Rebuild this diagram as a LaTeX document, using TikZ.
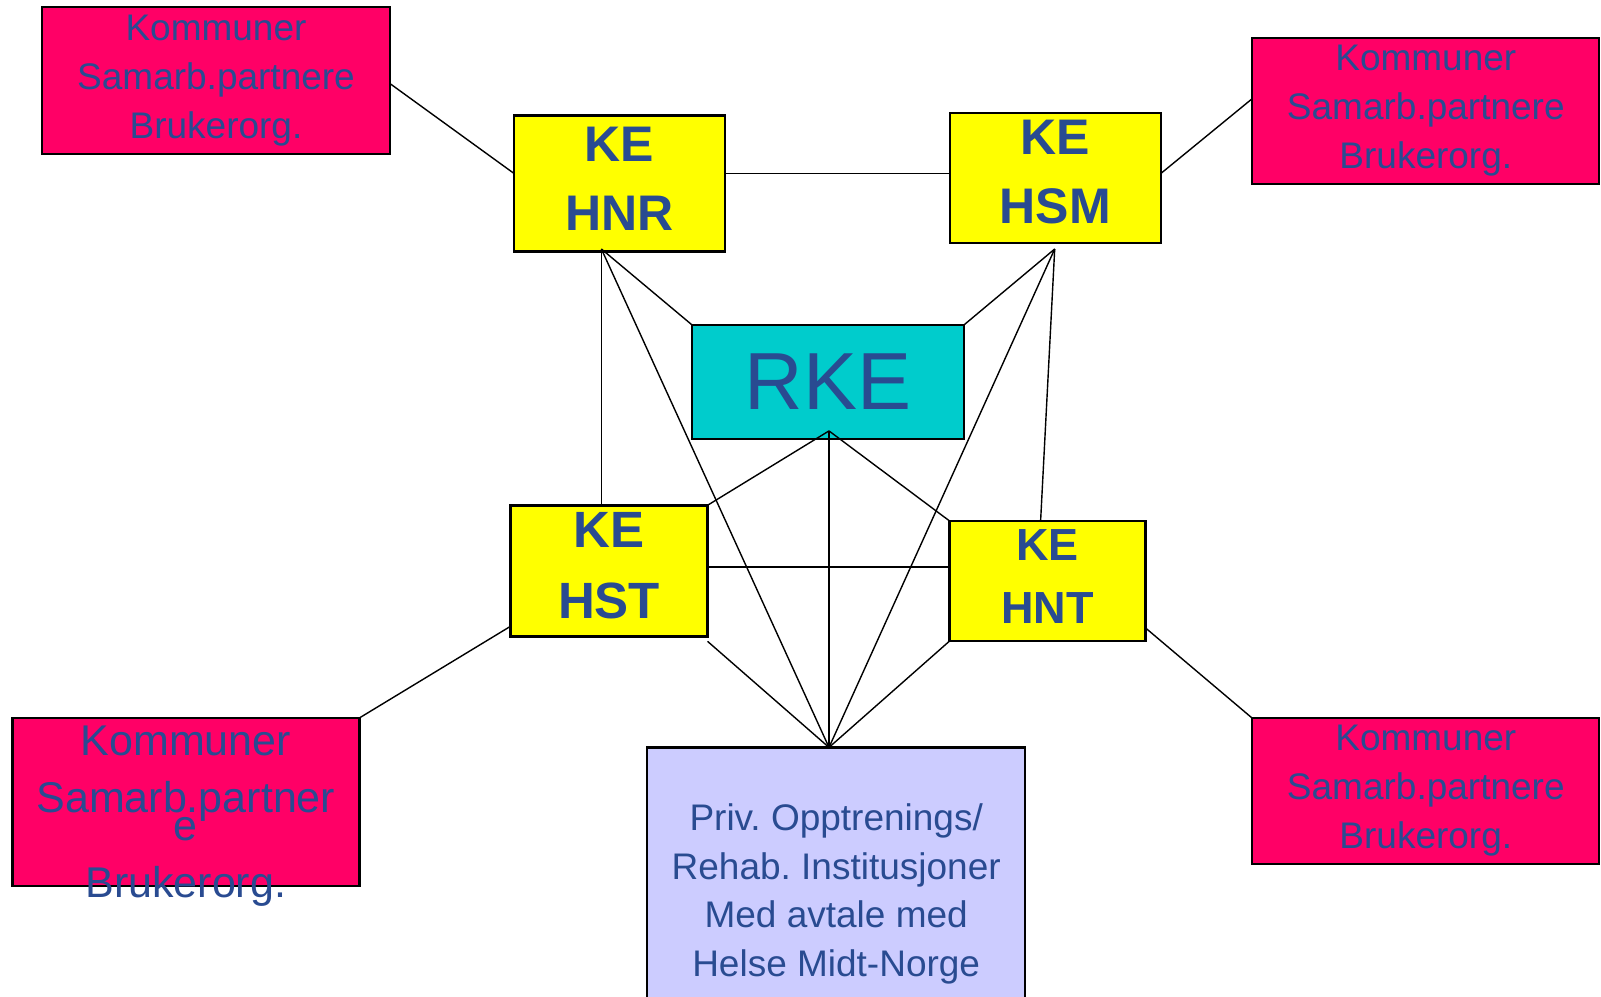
\documentclass[tikz,border=0pt]{standalone}
\usepackage{fontspec}
\setmainfont{Liberation Sans}
\frenchspacing
\definecolor{partner color}{HTML}{FF0066}
\definecolor{ke color}{HTML}{FFFF00}
\definecolor{rke color}{HTML}{00CCCC}
\definecolor{priv color}{HTML}{CCCCFF}
\definecolor{label color}{HTML}{294B91}
\tikzset{
    x={1pt},
    y={-1pt},
    box/.style={
        draw=black,
        line width={2.4pt},
        inner sep=0pt,
        outer sep=0pt,
        align=center,
        text=label color,
    },
    partner box/.style 2 args={
        box, fill=partner color,
        minimum width={#1},
        minimum height={#2},
    },
    partner text/.style={
        align=center,
        text=label color,
        inner sep=0pt,
        font={\fontsize{37}{49}\selectfont},
    },
    ke box/.style 2 args={
        box, fill=ke color,
        minimum width={#1},
        minimum height={#2},
        text depth={10pt},
        font={\bfseries\fontsize{50}{69}\selectfont},
    },
    rke box/.style={
        box, fill=rke color,
        minimum width={272},
        minimum height={114},
        font={\fontsize{81}{90}\selectfont},
    },
    priv box/.style={
        box, fill=priv color,
        minimum width={378},
        minimum height={293},
        font={\fontsize{37}{48.5}\selectfont},
    },
    link/.style={
        draw=black,
        line width={1.4pt},
    },
}

\begin{document}
\begin{tikzpicture}
\useasboundingbox (0,0) rectangle (1601,996);
% partner boxes
\node[partner box={348}{147}] (partner nw) at (216,80.6) {};
\node[partner box={347}{146}] (partner ne) at (1425.3,110.8) {};
\node[partner box={347}{168}] (partner sw) at (185.8,802) {};
\node[partner box={347}{146}] (partner se) at (1425.3,790.8) {};
\node[partner text] (partner nw text) at (216,81) {Kommuner\\Samarb.partnere\\Brukerorg.};
\node[partner text] (partner ne text) at (1425.8,110.6) {Kommuner\\Samarb.partnere\\Brukerorg.};
\node[partner text] (partner se text) at (1425.8,791) {Kommuner\\Samarb.partnere\\Brukerorg.};
\node[partner text, font={\fontsize{43}{57}\selectfont}] (partner sw text) at (185.8,816) {Kommuner\\Samarb.partner\\[-28.5pt]e\\Brukerorg.};
% centres
\node[ke box={211}{136}] (hnr) at (619.3,183.3) {KE\\HNR};
\node[ke box={211}{130}, text depth={12pt}] (hsm) at (1055.2,178.2) {KE\\HSM};
\node[ke box={197}{131}, font={\bfseries\fontsize{51}{71}\selectfont}] (hst) at (609,570.8) {KE\\HST};
\node[ke box={196}{120}, text depth={8pt}, font={\bfseries\fontsize{45}{63}\selectfont}] (hnt) at (1047.6,581) {KE\\HNT};
\node[rke box] (rke) at (828,381.9) {RKE};
\node[priv box] (priv) at (836.2,893.9) {Priv. Opptrenings/\\Rehab. Institusjoner\\Med avtale med\\Helse Midt-Norge};
% hubs
\coordinate (hnr hub) at (601.4,249);
\coordinate (hsm hub) at (1054.7,249);
\coordinate (rke hub) at (829,430.9);
\coordinate (priv hub) at (829,747.4);
% links
\draw[link] ([yshift=-3pt]partner nw.east) -- ([yshift=10pt]hnr.west);
\draw[link] ([yshift=10pt]hnr.east) -- ([yshift=10pt]hnr.east -| hsm.west);
\draw[link] ([yshift=4.6pt]hsm.east) -- ([yshift=11.8pt]partner ne.west);
\draw[link] (hnr hub) -- (rke.north west);
\draw[link] (hnr hub) -- (hnr hub |- hst.north);
\draw[link] (hnr hub) -- (priv hub);
\draw[link] (hsm hub) -- (rke.north east);
\draw[link] (hsm hub) -- (priv hub);
\draw[link] (hsm hub) -- ([xshift=-7pt]hnt.north);
\draw[link] (rke hub) -- (hst.north east);
\draw[link] (rke hub) -- (priv hub);
\draw[link] (rke hub) -- (hnt.north west);
\draw[link] ([yshift=4pt]hst.east) -- ([yshift=4pt]hst.east -| hnt.west);
\draw[link] ([yshift=-5pt]hst.south east) -- (priv hub);
\draw[link] (hnt.south west) -- (priv hub);
\draw[link] ([yshift=10pt]hst.south west) -- (partner sw.north east);
\draw[link] ([yshift=13pt]hnt.south east) -- (partner se.north west);
\end{tikzpicture}
\end{document}
